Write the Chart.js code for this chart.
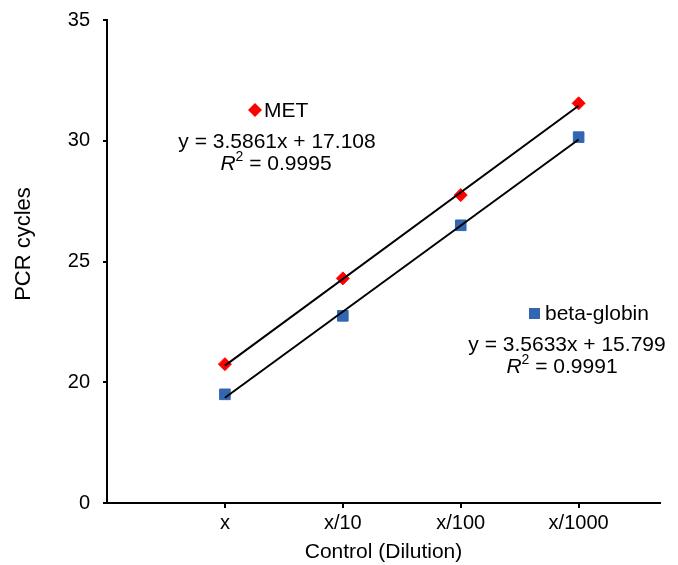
<!DOCTYPE html>
<html>
<head>
<meta charset="utf-8">
<script src="https://cdn.jsdelivr.net/npm/chart.js@4"></script>
<style>
  html, body { margin: 0; padding: 0; background: #fff; }
  #wrap { width: 678px; height: 565px; }
</style>
</head>
<body>
<div id="wrap"><canvas id="pcrChart" width="678" height="565"></canvas></div>
<script>
const dilutions = ["x", "x/10", "x/100", "x/1000"];
const dilutionPos = [1, 2, 3, 4];
const metValues = [20.75, 24.3, 27.75, 31.55];
const betaValues = [19.5, 22.75, 26.5, 30.15];
// trend line ends
const metTrend = [20.69, 31.45];
const betaTrend = [19.36, 30.05];
const yTicks = [15, 20, 25, 30, 35];
const yTickLabels = ["0", "20", "25", "30", "35"];

const FONT = "'Liberation Sans', Arial, sans-serif";
const ctx = document.getElementById("pcrChart").getContext("2d");

const toPoints = (xs, ys) => xs.map((x, i) => ({ x: x, y: ys[i] }));

// legend-style labels, equations and the y title (sits above centre in the original)
const notes = {
  id: "notes",
  afterDraw(chart) {
    const c = chart.ctx;
    c.save();
    c.textBaseline = "middle";

    // y axis title
    c.save();
    c.translate(24, 244);
    c.rotate(-Math.PI / 2);
    c.fillStyle = "#000";
    c.textAlign = "center";
    c.font = "22px " + FONT;
    c.fillText("PCR cycles", 0, 0);
    c.restore();

    // MET marker
    c.fillStyle = "#ff0000";
    c.beginPath();
    c.moveTo(255, 103); c.lineTo(262, 110); c.lineTo(255, 117); c.lineTo(248, 110);
    c.closePath(); c.fill();
    c.fillStyle = "#000";
    c.font = "21px " + FONT;
    c.textAlign = "left";
    c.fillText("MET", 264, 111);
    c.textAlign = "center";
    c.fillText("y = 3.5861x + 17.108", 277, 142);
    drawR2(c, "0.9995", 276, 164);

    // beta-globin marker
    c.fillStyle = "#3366b0";
    c.fillRect(529, 308, 11, 11);
    c.fillStyle = "#000";
    c.textAlign = "left";
    c.fillText("beta-globin", 545, 314);
    c.textAlign = "center";
    c.fillText("y = 3.5633x + 15.799", 567, 345);
    drawR2(c, "0.9991", 562, 367);
    c.restore();
  }
};

function drawR2(c, val, cx, y) {
  const rest = " = " + val;
  c.font = "italic 21px " + FONT;
  const wR = c.measureText("R").width;
  c.font = "14px " + FONT;
  const w2 = c.measureText("2").width;
  c.font = "21px " + FONT;
  const wRest = c.measureText(rest).width;
  let x = cx - (wR + w2 + wRest) / 2;
  c.textAlign = "left";
  c.font = "italic 21px " + FONT;
  c.fillText("R", x, y);
  x += wR;
  c.font = "14px " + FONT;
  c.fillText("2", x, y - 7);
  x += w2;
  c.font = "21px " + FONT;
  c.fillText(rest, x, y);
}

new Chart(ctx, {
  type: "scatter",
  data: {
    datasets: [
      {
        label: "MET trend",
        data: toPoints([1, 4], metTrend),
        showLine: true,
        borderColor: "#000",
        borderWidth: 2,
        pointRadius: 0,
        order: 0
      },
      {
        label: "beta trend",
        data: toPoints([1, 4], betaTrend),
        showLine: true,
        borderColor: "#000",
        borderWidth: 2,
        pointRadius: 0,
        order: 0
      },
      {
        label: "MET",
        data: toPoints(dilutionPos, metValues),
        pointStyle: "rectRot",
        pointRadius: 6.5,
        backgroundColor: "#ff0000",
        borderColor: "#ff0000",
        order: 1
      },
      {
        label: "beta-globin",
        data: toPoints(dilutionPos, betaValues),
        pointStyle: "rect",
        pointRadius: 7.5,
        backgroundColor: "#3366b0",
        borderColor: "#3366b0",
        order: 1
      }
    ]
  },
  options: {
    responsive: false,
    animation: false,
    layout: { padding: { top: 20, right: 18, left: 0, bottom: 0 } },
    plugins: {
      legend: { display: false },
      tooltip: { enabled: false }
    },
    scales: {
      x: {
        type: "linear",
        min: 0,
        max: 4.69,
        afterBuildTicks: scale => { scale.ticks = dilutionPos.map(v => ({ value: v })); },
        ticks: {
          callback: (v) => dilutions[dilutionPos.indexOf(v)],
          color: "#000",
          font: { family: FONT, size: 20 },
          padding: 3,
          maxRotation: 0
        },
        grid: { drawOnChartArea: false, drawTicks: true, tickLength: 5, color: "#000", lineWidth: 2 },
        border: { color: "#000", width: 2 },
        title: {
          display: true,
          text: "Control (Dilution)",
          color: "#000",
          font: { family: FONT, size: 21 },
          padding: { top: 0, bottom: 0 }
        },
        afterFit: scale => { scale.height = 62; }
      },
      y: {
        min: 15,
        max: 35,
        afterBuildTicks: scale => { scale.ticks = yTicks.map(v => ({ value: v })); },
        ticks: {
          callback: (v) => yTickLabels[yTicks.indexOf(v)],
          color: "#000",
          font: { family: FONT, size: 20 },
          padding: 13
        },
        grid: { drawOnChartArea: false, drawTicks: true, tickLength: 4, color: "#000", lineWidth: 2 },
        border: { color: "#000", width: 2 },
        title: { display: false },
        afterFit: scale => {
          scale.width = 107;
          scale.paddingTop = 0;
          scale.paddingBottom = 0;
        }
      }
    }
  },
  plugins: [notes]
});
</script>
</body>
</html>
